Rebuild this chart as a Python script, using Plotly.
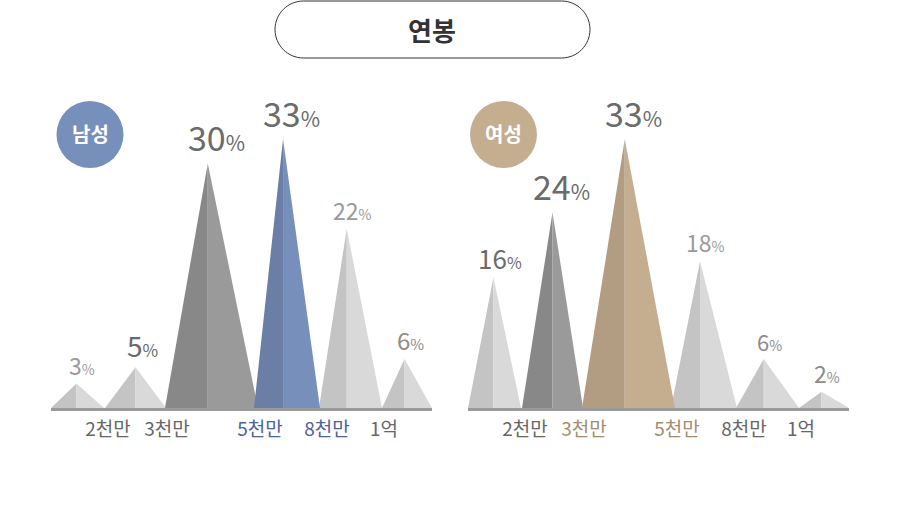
import plotly.graph_objects as go

# ---------------- data ----------------
categories = ["2천만 미만", "2천~3천만", "3천~5천만", "5천~8천만", "8천만~1억", "1억 이상"]
tick_labels = ["2천만", "3천만", "5천만", "8천만", "1억"]
male_values = [3, 5, 30, 33, 22, 6]
female_values = [16, 24, 33, 18, 6, 2]
panel_names = ["남성", "여성"]
title_text = "연봉"

# ---------------- layout / style ----------------
FONT = "Noto Sans CJK KR"
W, H = 900, 506
band_left = [0, 54, 114, 203, 268, 331]
band_right = [53, 115, 207, 269, 331, 381]
apex_frac = [0.48, 0.50, 0.46, 0.44, 0.44, 0.45]
tick_pos = [57, 116, 209, 276, 333]

TONES = {
    "light": ("#c4c4c4", "#d9d9d9"),
    "mid": ("#888888", "#9a9a9a"),
    "blue": ("#6a7ea6", "#7690bb"),
    "tan": ("#b29d82", "#c5ad90"),
}
male_tones = ["light", "light", "mid", "blue", "light", "light"]
female_tones = ["light", "mid", "tan", "light", "light", "light"]

male_label_size = [23, 28, 34, 34, 23, 24]
female_label_size = [26, 34, 34, 23, 22, 23]
male_label_color = ["#9a9a9a", "#6b6b6b", "#6b6b6b", "#6b6b6b", "#9a9a9a", "#8c8c8c"]
female_label_color = ["#6b6b6b", "#6b6b6b", "#6b6b6b", "#9a9a9a", "#8c8c8c", "#8c8c8c"]

GRAY_T, BLUE_T, TAN_T = "#666666", "#4d6296", "#a58d6c"
male_tick_colors = [GRAY_T, GRAY_T, BLUE_T, BLUE_T, GRAY_T]
female_tick_colors = [GRAY_T, TAN_T, TAN_T, GRAY_T, GRAY_T]

panels = [
    dict(values=male_values, tones=male_tones, sizes=male_label_size,
         colors=male_label_color, tickc=male_tick_colors, xa="x",
         domain=[51 / W, 432 / W], circle=(90, 134.5), ccol="#7790bb"),
    dict(values=female_values, tones=female_tones, sizes=female_label_size,
         colors=female_label_color, tickc=female_tick_colors, xa="x2",
         domain=[468 / W, 849 / W], circle=(503.5, 134.5), ccol="#c5ad8f"),
]

fig = go.Figure()
annotations = []
shapes = []

for p in panels:
    order = [i for i in range(6) if p["tones"][i] in ("light", "mid")] + \
            [i for i in range(6) if p["tones"][i] not in ("light", "mid")]
    for i in order:
        v = p["values"][i]
        l, r = band_left[i], band_right[i]
        a = l + apex_frac[i] * (r - l)
        dark, light = TONES[p["tones"][i]]
        fig.add_trace(go.Scatter(x=[l, a, a, l], y=[0, v, 0, 0], xaxis=p["xa"], yaxis="y",
                                 mode="lines", fill="toself", fillcolor=dark,
                                 line=dict(width=0), hoverinfo="skip", name=categories[i]))
        fig.add_trace(go.Scatter(x=[a, r, a, a], y=[v, 0, 0, v], xaxis=p["xa"], yaxis="y",
                                 mode="lines", fill="toself", fillcolor=light,
                                 line=dict(width=0), hoverinfo="skip", name=categories[i]))
    for i in range(6):
        v = p["values"][i]
        l, r = band_left[i], band_right[i]
        a = l + apex_frac[i] * (r - l)
        s = p["sizes"][i]
        ps = round(s * 0.62)
        annotations.append(dict(
            x=a, y=v, xref=p["xa"], yref="y", xanchor="center", yanchor="bottom",
            xshift=ps * 0.42, yshift=0, showarrow=False,
            text=f"{v}<span style='font-size:{ps}px'>%</span>",
            font=dict(family=FONT, size=s, color=p["colors"][i])))
    # badge circle
    cx, cy = p["circle"]
    rr = 33.5
    shapes.append(dict(type="circle", xref="paper", yref="paper",
                       x0=(cx - rr) / W, x1=(cx + rr) / W,
                       y0=1 - (cy + rr) / H, y1=1 - (cy - rr) / H,
                       fillcolor=p["ccol"], line=dict(width=0), layer="below"))

for name, (cx, cy) in zip(panel_names, [p["circle"] for p in panels]):
    annotations.append(dict(x=cx / W, y=1 - (cy - 1) / H, xref="paper", yref="paper",
                            xanchor="center", yanchor="middle", showarrow=False,
                            text="<b>" + name + "</b>",
                            font=dict(family=FONT, size=20, color="white")))

# title stadium box
def px(x):
    return x / W

def py(y):
    return 1 - y / H

x0, x1, y0, y1 = 275, 590, 1, 58
r = (y1 - y0) / 2
cyc = (y0 + y1) / 2
k = 0.5523 * r
lc, rc = x0 + r, x1 - r
pts = [
    f"M {px(lc)},{py(y0)}",
    f"L {px(rc)},{py(y0)}",
    f"C {px(rc + k)},{py(y0)} {px(x1)},{py(cyc - k)} {px(x1)},{py(cyc)}",
    f"C {px(x1)},{py(cyc + k)} {px(rc + k)},{py(y1)} {px(rc)},{py(y1)}",
    f"L {px(lc)},{py(y1)}",
    f"C {px(lc - k)},{py(y1)} {px(x0)},{py(cyc + k)} {px(x0)},{py(cyc)}",
    f"C {px(x0)},{py(cyc - k)} {px(lc - k)},{py(y0)} {px(lc)},{py(y0)}",
    "Z",
]
shapes.append(dict(type="path", xref="paper", yref="paper", path=" ".join(pts),
                   line=dict(color="#333333", width=1), fillcolor="rgba(0,0,0,0)"))
annotations.append(dict(x=px(432), y=py(29), xref="paper", yref="paper", showarrow=False,
                        xanchor="center", yanchor="middle",
                        text="<b>" + title_text + "</b>",
                        font=dict(family=FONT, size=26, color="#333333")))

scale = 8.15
ybot = (H - 408) / H
ytop = (H - (408 - 40 * scale)) / H


def xaxis(domain, colors):
    return dict(domain=domain, range=[0, 381], anchor="y", showgrid=False, zeroline=False,
                showline=True, linecolor="#9a9a9a", linewidth=3, ticks="",
                tickvals=tick_pos,
                ticktext=[f"<span style='color:{c}'>{t}</span>" for t, c in zip(tick_labels, colors)],
                tickfont=dict(family=FONT, size=19, color="#666666"),
                ticklabelstandoff=2, fixedrange=True)


fig.update_layout(
    width=W, height=H, margin=dict(l=0, r=0, t=0, b=0),
    paper_bgcolor="white", plot_bgcolor="white", showlegend=False, hovermode=False,
    xaxis=xaxis(panels[0]["domain"], male_tick_colors),
    xaxis2=xaxis(panels[1]["domain"], female_tick_colors),
    yaxis=dict(domain=[ybot, ytop], range=[0, 40], visible=False, fixedrange=True),
    annotations=annotations, shapes=shapes,
)

fig.write_html("out.html", config={"displayModeBar": False},
               post_script="document.body.style.margin='0';document.body.style.overflow='hidden';")
